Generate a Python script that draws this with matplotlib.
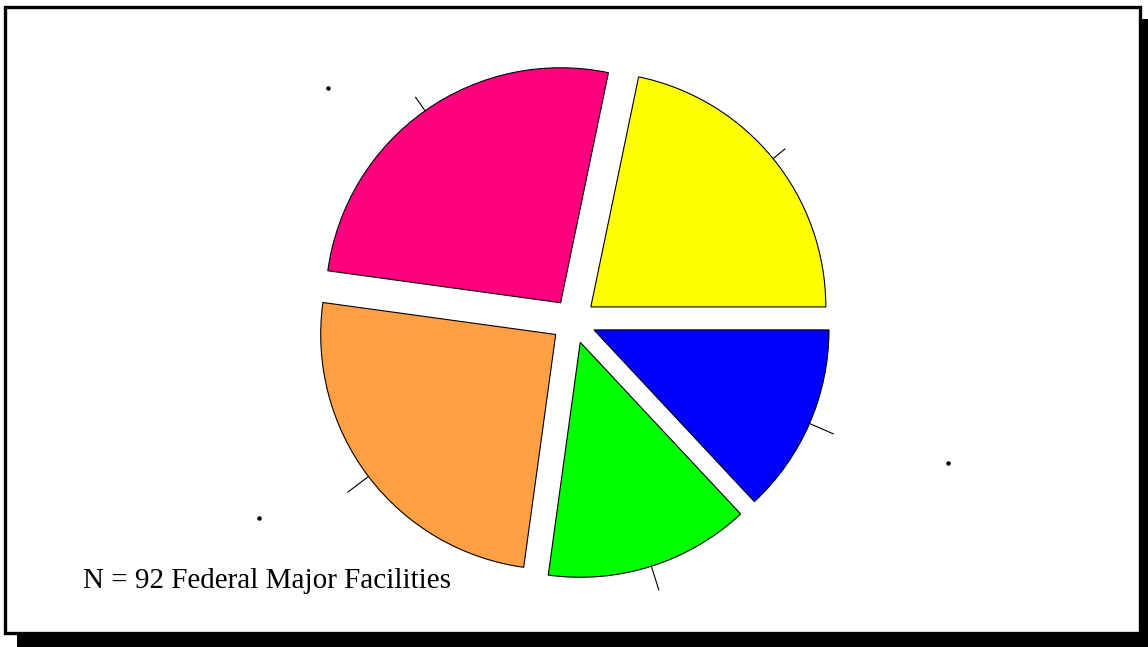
import numpy as np
import matplotlib
matplotlib.use("Agg")
import matplotlib.pyplot as plt
from matplotlib.patches import Rectangle

# Data
counts = [20, 24, 23, 13, 12]
colors = ["#FFFF00", "#FF0080", "#FFA044", "#00FF00", "#0000FF"]
explode_frac = [0.095] * 5
tick_end = [1.065, 1.07, 1.11, 1.105, 1.11]
note = "N = 92 Federal Major Facilities"
label_dots = [(-1.045, 0.991), (1.594, -0.604), (-1.338, -0.838)]

W, H = 1148, 647
fig = plt.figure(figsize=(W / 100, H / 100), dpi=100)

# shadow and frame (figure pixel coordinates)
fig.patches.append(Rectangle((17 / W, 0), 1 - 17 / W, 1 - 19 / H,
                             transform=fig.transFigure, facecolor="black",
                             edgecolor="none", zorder=-3))
fig.patches.append(Rectangle((4.5 / W, 1 - 633 / H), (1140 - 4.5) / W, (633 - 6.5) / H,
                             transform=fig.transFigure, facecolor="white",
                             edgecolor="black", linewidth=2.4, zorder=-2))

ax = fig.add_axes([0, 0, 1, 1])
ax.patch.set_alpha(0)
ax.set_axis_off()

cx_px, cy_px, r_px = 573.5, 321.0, 235.0
wedges, _ = ax.pie(counts, colors=colors, explode=explode_frac, startangle=0,
                   counterclock=True,
                   wedgeprops=dict(edgecolor="black", linewidth=0.8))
ax.set_aspect("auto")
ax.set_xlim(-cx_px / r_px, (W - cx_px) / r_px)
ax.set_ylim(-(H - cy_px) / r_px, cy_px / r_px)

# tick lines at each wedge's bisector
total = sum(counts)
start = 0.0
for c, e, te in zip(counts, explode_frac, tick_end):
    ang = np.deg2rad(start + 360.0 * c / total / 2)
    ox, oy = e * np.cos(ang), e * np.sin(ang)
    ax.plot([ox + np.cos(ang), ox + te * np.cos(ang)],
            [oy + np.sin(ang), oy + te * np.sin(ang)],
            color="black", linewidth=0.8)
    start += 360.0 * c / total

for x, y in label_dots:
    ax.plot(x, y, marker="o", markersize=2.2, color="black")

fig.text(83 / W, 1 - 588 / H, note, family="Liberation Serif", fontsize=21,
         ha="left", va="baseline", color="black")

fig.savefig("out.png", dpi=100)
